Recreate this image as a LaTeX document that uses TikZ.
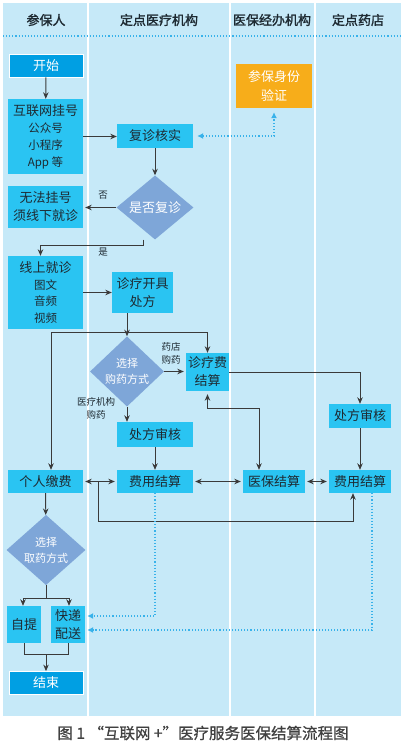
\documentclass[tikz,border=0pt]{standalone}
\usepackage{fontspec}
\setmainfont{Noto Sans CJK SC}
\newfontfamily\headfont{Noto Sans CJK SC}[FakeBold=1.6]
\newfontfamily\capfont{Noto Sans CJK SC}[FakeBold=0.8]
\usetikzlibrary{shapes.geometric,arrows.meta,calc}
\definecolor{lanec}{HTML}{C6E9F8}
\definecolor{boxc}{HTML}{2AC4F2}
\definecolor{termc}{HTML}{009FE3}
\definecolor{diac}{HTML}{7EA6D8}
\definecolor{orgc}{HTML}{F7AD1A}
\definecolor{dotc}{HTML}{38B2EA}
\definecolor{linec}{HTML}{3A3A3A}
\definecolor{txtc}{HTML}{1E2A32}

\begin{document}
\begin{tikzpicture}[
  x=1pt, y=-1pt, font=\fontsize{13}{18}\selectfont, >={Stealth[length=6.5pt,width=5.5pt]},
  box/.style={fill=boxc, text=txtc, inner sep=0pt, align=center},
  term/.style={fill=termc, draw=white, line width=0.8pt, text=white, inner sep=0pt, minimum width=74pt, minimum height=23pt},
  dec/.style={diamond, fill=diac, text=white, inner sep=0pt, align=center},
  lbl/.style={font=\fontsize{9.5}{13}\selectfont, text=txtc, align=center},
  head/.style={font=\headfont\fontsize{13}{15}\selectfont, text=txtc},
  flow/.style={draw=linec, line width=0.9pt, ->},
  both/.style={draw=linec, line width=0.9pt, <->},
  link/.style={draw=dotc, dotted, line width=1.1pt, -{Latex[length=6pt,width=6pt]}},
]
\useasboundingbox (0,0) rectangle (405,751);
\fill[lanec] (3,3) rectangle (401,716);
\foreach \lx in {88,230,315}
  \draw[white, line width=1.5pt] (\lx,3) -- (\lx,716);
\draw[dotc, dotted, line width=1.1pt] (3,36) -- (401,36);

\node[head] (h1) at (46,20) {参保人};
\node[head] (h2) at (159,20) {定点医疗机构};
\node[head] (h3) at (272,20) {医保经办机构};
\node[head] (h4) at (358,20) {定点药店};

\node[term] (start) at (46,65.5) {开始};
\node[box, minimum width=75pt, minimum height=75pt, font=\fontsize{11.5}{17}\selectfont] (reg) at (45.5,136.5)
  {{\fontsize{13}{17}\selectfont 互联网挂号}\\公众号\\小程序\\App 等};
\node[box, fill=orgc, text=white, minimum width=76pt, minimum height=44pt, font=\fontsize{13}{19}\selectfont] (idcheck) at (274,86) {参保身份\\验证};
\node[box, minimum width=76pt, minimum height=24pt] (verify) at (155,136) {复诊核实};
\node[dec, minimum width=77pt, minimum height=53pt] (q1) at (155,207.5) {是否复诊};
\node[box, minimum width=75pt, minimum height=42pt] (offline) at (45.5,207) {无法挂号\\须线下就诊};
\node[box, minimum width=75pt, minimum height=73pt, font=\fontsize{11.5}{16.7}\selectfont] (online) at (45.5,292.5)
  {{\fontsize{13}{16.7}\selectfont 线上就诊}\\图文\\音频\\视频};
\node[box, minimum width=61pt, minimum height=41pt] (presc) at (142.5,292.5) {诊疗开具\\处方};
\node[dec, minimum width=74pt, minimum height=53pt, font=\fontsize{11}{16}\selectfont] (q2) at (127,371.5) {选择\\购药方式};
\node[box, minimum width=43pt, minimum height=38pt] (fee) at (207.5,372) {诊疗费\\结算};
\node[box, minimum width=76pt, minimum height=25pt] (rxa) at (155,434.5) {处方审核};
\node[box, minimum width=62pt, minimum height=24pt] (rxb) at (360,416) {处方审核};
\node[box, minimum width=75pt, minimum height=23pt] (pay) at (45.5,481.5) {个人缴费};
\node[box, minimum width=76pt, minimum height=23pt] (costa) at (155,481.5) {费用结算};
\node[box, minimum width=62pt, minimum height=23pt] (ins) at (274,481.5) {医保结算};
\node[box, minimum width=62pt, minimum height=23pt] (costb) at (360,481.5) {费用结算};
\node[dec, minimum width=79pt, minimum height=54pt, font=\fontsize{11}{16}\selectfont] (q3) at (46,550) {选择\\取药方式};
\node[box, minimum width=34pt, minimum height=37pt] (self) at (24,624.5) {自提};
\node[box, minimum width=34pt, minimum height=37pt] (exp) at (68,624.5) {快递\\配送};
\node[term] (end) at (46,683) {结束};

\node[lbl] (no) at (103,195) {否};
\node[lbl] (yes) at (103,252) {是};
\node[lbl] (shop) at (171,353.5) {药店\\购药};
\node[lbl] (hosp) at (96,408.5) {医疗机构\\购药};

\node[font=\capfont\fontsize{15.5}{17}\selectfont, text=black!75] (cap) at (203,733) {图 1 “互联网 +”医疗服务医保结算流程图};

\draw[flow] (start) -- (reg);
\draw[flow] (reg.east) -- (reg.east -| verify.west);
\draw[link, {Latex[length=6pt,width=6pt]}-{Latex[length=6pt,width=6pt]}] ([xshift=4pt]verify.east) -| ([yshift=-4pt]idcheck.south);
\draw[flow] (verify) -- (q1);
\draw[flow, shorten >=2pt] (q1.west) -- (q1.west -| offline.east);
\draw[flow] ([xshift=-12pt]q1.south) -- ++(0,6) -| ([xshift=-5pt]online.north);
\draw[flow] (online.east |- presc) -- (presc.west);
\draw[flow] (presc.south -| q2) -- (q2.north);
\draw[flow] (q2 |- 0,332) -| (fee.north);
\draw[flow] (q2 |- 0,332) -| ([xshift=5.5pt]pay.north);
\draw[flow, shorten >=2pt] (q2.east) -- (q2.east -| fee.west);
\draw[flow] (q2.south) -- (q2.south |- rxa.north);
\draw[flow] (fee.east) -| (rxb.north);
\draw[both] ([yshift=-3pt]fee.south) -- ++(0,14) -| ([xshift=-15pt]ins.north);
\draw[flow] (rxa) -- (costa);
\draw[flow] (rxb) -- (costb);
\draw[both, shorten <=2pt, shorten >=2pt] (pay.east) -- (costa.west);
\draw[both, shorten <=2pt, shorten >=2pt] (costa.east) -- (ins.west);
\draw[both, shorten <=2pt, shorten >=2pt] (ins.east) -- (costb.west);
\draw[flow] ([xshift=15pt]pay.east) -- ++(0,39.5) -| ([xshift=-7pt]costb.south);
\draw[flow] (pay) -- (q3);
\draw[draw=linec, line width=0.9pt] (q3.south) -- ++(0,13);
\draw[flow] ([yshift=-13pt]q3.south) -| ([xshift=-1pt]self.north);
\draw[flow] ([yshift=-13pt]q3.south) -| ([xshift=1pt]exp.north);
\draw[draw=linec, line width=0.9pt] (self.south) -- ++(0,11) -| (exp.south);
\draw[flow] ([yshift=-11pt]$(self.south)!.5!(exp.south)$) -- (end.north);
\draw[link] (costa.south) |- ([xshift=2pt,yshift=8.5pt]exp.east);
\draw[link] ([xshift=12pt]costb.south) |- ([xshift=2pt,yshift=-5.5pt]exp.east);
\end{tikzpicture}
\end{document}
